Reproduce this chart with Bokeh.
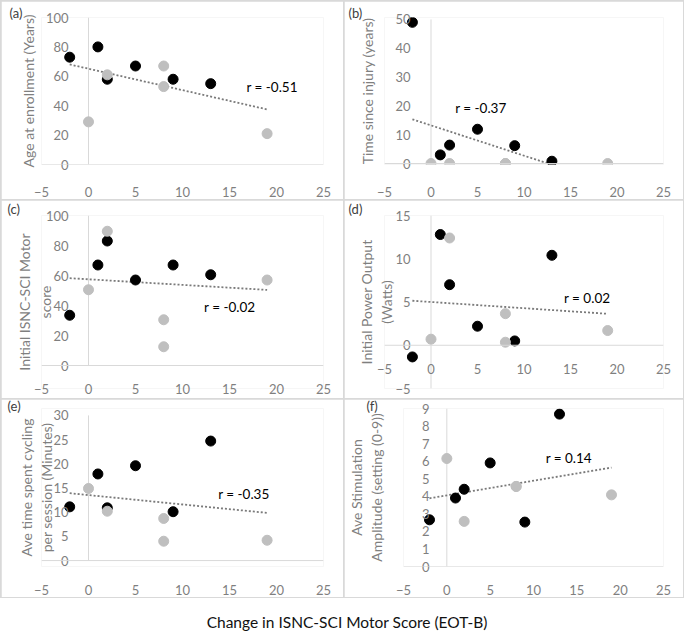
import numpy as np
from bokeh.plotting import figure
from bokeh.models import Range1d, FixedTicker, Label, Div, Span, AllLabels
from bokeh.layouts import row, column
from bokeh.embed import file_html
from bokeh.resources import INLINE

# ---- data ----
x_black = [-2, 1, 2, 5, 9, 13]
x_grey = [0, 2, 8, 8, 19]
x_ticks = [-5, 0, 5, 10, 15, 20, 25]

age_black = [73, 80, 58, 67, 58, 55]
age_grey = [29, 61, 67, 53, 21]

tsi_black = [49, 3, 6.4, 11.9, 6.2, 0.8]
tsi_grey = [0, 0, 0, 0, 0]

motor_black = [33.5, 67, 83, 57, 67, 60.5]
motor_grey = [50.5, 89.5, 30.5, 12.5, 57]

power_black = [-1.35, 12.8, 7.0, 2.2, 0.5, 10.4]
power_grey = [0.7, 12.4, 3.65, 0.35, 1.7]

cyc_black = [11.1, 17.9, 10.9, 19.6, 10.1, 24.7]
cyc_grey = [14.9, 10.2, 8.7, 4.0, 4.2]

amp_black = [2.66, 3.9, 4.4, 5.9, 2.53, 8.68]
amp_grey = [6.15, 2.57, 4.56, 4.56, 4.08]

panel_letters = ["(a)", "(b)", "(c)", "(d)", "(e)", "(f)"]
y_titles = ["Age at enrollment (Years)", "Time since injury (years)",
            "Initial ISNC-SCI Motor\nscore", "Initial Power Output\n(Watts)",
            "Ave time spent cycling\nper session (Minutes)",
            "Ave Stimulation\nAmplitude (setting (0-9))"]
r_texts = ["r = -0.51", "r = -0.37", "r = -0.02", "r = 0.02", "r = -0.35", "r = 0.14"]
y_ticks = [[0, 20, 40, 60, 80, 100], [0, 10, 20, 30, 40, 50], [0, 20, 40, 60, 80, 100],
           [-5, 0, 5, 10, 15], [0, 5, 10, 15, 20, 25, 30], list(range(0, 10))]
caption = "Change in ISNC-SCI Motor Score (EOT-B)"

# ---- layout / style ----
WIDTHS = [342, 339]
H = 198
LEFT, RIGHT = 40, 20
FONT = "Lato"
GREY_TXT = "#7f7f7f"
AXIS_LINE = "#d9d9d9"
r_pos = [(16.8, 52.5), (2.6, 19.3), (12.3, 38.7), (14.3, 5.5), (13.8, 13.7), (11.4, 6.2)]
# pixel rows (from the cell top) of the top tick and bottom tick of each panel
tick_px = [(16, 167), (18, 166), (15, 165), (15, 188), (16, 163), (9, 169)]
# gap from the y=0 line to the top of the x tick labels
x_label_gap = [16, 17, 12, 12, 18, 12]
title_standoffs = [6, 16, -11, -3, -5, 34]
letter_pos = [(8, 15), (4, 15), (6, 11), (4, 11), (6, 12), (3, 12)]
Y_LABEL_GAP = 14

series = [(age_black, age_grey), (tsi_black, tsi_grey), (motor_black, motor_grey),
          (power_black, power_grey), (cyc_black, cyc_grey), (amp_black, amp_grey)]


def make_panel(i):
    yb, yg = series[i]
    ticks = y_ticks[i]
    t0, t1 = ticks[0], ticks[-1]
    W = WIDTHS[i % 2]
    fw = W - LEFT - RIGHT
    # frames of the two panels in a row are aligned: use the row's extremes
    r = i // 2
    T = min(tick_px[2 * r][0], tick_px[2 * r + 1][0])
    F = max(tick_px[2 * r][1], tick_px[2 * r + 1][1])
    top_px, bot_px = tick_px[i]
    upx = (bot_px - top_px) / (t1 - t0)
    y_hi = t1 + (top_px - T) / upx
    y_lo = t0 - (F - bot_px) / upx
    lx, ly = letter_pos[i]

    p = figure(width=W, height=H, x_range=Range1d(-5, 25),
               y_range=Range1d(y_lo, y_hi),
               output_backend="svg", toolbar_location=None,
               min_border_left=LEFT, min_border_right=RIGHT,
               min_border_top=T, min_border_bottom=H - F)
    p.xgrid.visible = False
    p.ygrid.visible = False
    p.outline_line_color = None
    p.background_fill_color = "white"
    p.border_fill_color = "white"

    # panel letter (top-left corner of the cell)
    p.title.text = panel_letters[i]
    p.title.align = "left"
    p.title.offset = lx - LEFT
    p.title.standoff = T - (ly + 7)
    p.title.text_font = FONT
    p.title.text_font_size = "13px"
    p.title.text_font_style = "normal"
    p.title.text_color = "#404040"

    zero_px_x = (0 - (-5)) / 30 * fw
    zero_px_from_bottom = (0 - y_lo) * upx

    for ax, tk in ((p.xaxis[0], x_ticks), (p.yaxis[0], ticks)):
        ax.ticker = FixedTicker(ticks=tk)
        ax.major_label_policy = AllLabels()
        ax.major_tick_line_color = None
        ax.minor_tick_line_color = None
        ax.major_label_text_color = GREY_TXT
        ax.major_label_text_font = FONT
        ax.major_label_text_font_size = "13px"
        ax.axis_line_color = None

    # y axis: labels beside the x=0 line; vertical axis line spans the tick range
    p.yaxis.major_label_standoff = int(round(Y_LABEL_GAP - zero_px_x))
    p.segment(x0=[0], y0=[t0], x1=[0], y1=[t1], line_color=AXIS_LINE, line_width=1)

    # x axis on y=0
    p.xaxis.major_label_standoff = int(round(x_label_gap[i] - zero_px_from_bottom))
    p.add_layout(Span(location=0, dimension="width", line_color=AXIS_LINE, line_width=1))

    p.yaxis.axis_label = y_titles[i]
    p.yaxis.axis_label_text_font = FONT
    p.yaxis.axis_label_text_font_size = "14px"
    p.yaxis.axis_label_text_font_style = "normal"
    p.yaxis.axis_label_text_color = GREY_TXT
    p.yaxis.axis_label_standoff = title_standoffs[i]

    # trend line (least squares over all points)
    xs = np.array(x_black + x_grey, dtype=float)
    ys = np.array(yb + yg, dtype=float)
    slope, icpt = np.polyfit(xs, ys, 1)
    tx = np.array([xs.min(), xs.max()])
    ty = slope * tx + icpt
    if ty.min() < t0:  # clipped at the axis minimum, as in the original
        cut = (t0 - icpt) / slope
        tx = np.array([xs.min(), cut])
        ty = slope * tx + icpt
    p.line(tx, ty, line_color="#7a7a7a", line_width=1.8, line_dash="2 2")

    p.scatter(x_black, yb, size=10, marker="circle", fill_color="black", line_color="black")
    p.scatter(x_grey, yg, size=10, marker="circle", fill_color="#bfbfbf", line_color="#bfbfbf")

    rx, ry = r_pos[i]
    p.add_layout(Label(x=rx, y=ry, text=r_texts[i], text_font=FONT, text_font_size="13.5px",
                       text_color="black", text_baseline="middle", text_align="left"))
    return p


panels = [make_panel(i) for i in range(6)]

grid = column(row(panels[0], panels[1], spacing=1),
              row(panels[2], panels[3], spacing=1),
              row(panels[4], panels[5], spacing=1),
              spacing=1,
              styles={"background-color": AXIS_LINE, "padding": "1px"})

cap = Div(text=f'<div style="width:684px;text-align:center;font-family:Lato;'
               f'font-size:15.5px;line-height:18px;color:#111;padding-top:10px">{caption}</div>',
          width=684, height=36)

page = column(grid, cap, spacing=0)

open("out.html", "w").write(file_html(page, INLINE))
